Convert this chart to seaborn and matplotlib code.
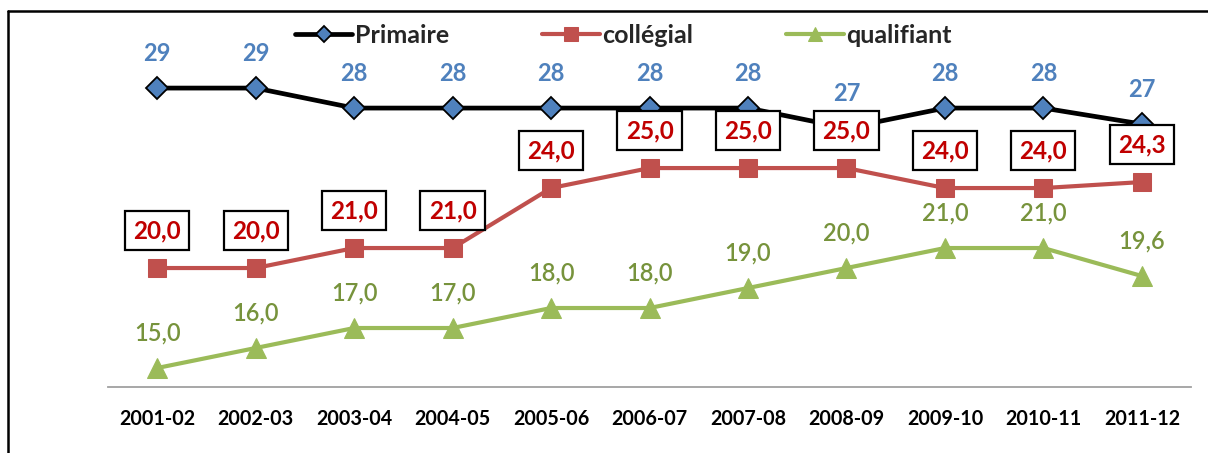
import matplotlib
matplotlib.use("Agg")
import matplotlib.pyplot as plt
from matplotlib.lines import Line2D
import seaborn as sns
import pandas as pd

# School years on the x axis
annees = ["2001-02", "2002-03", "2003-04", "2004-05", "2005-06", "2006-07",
          "2007-08", "2008-09", "2009-10", "2010-11", "2011-12"]

# Series values per level
primaire = [29, 29, 28, 28, 28, 28, 28, 27, 28, 28, 27.2]
collegial = [20.0, 20.0, 21.0, 21.0, 24.0, 25.0, 25.0, 25.0, 24.0, 24.0, 24.3]
qualifiant = [15.0, 16.0, 17.0, 17.0, 18.0, 18.0, 19.0, 20.0, 21.0, 21.0, 19.6]

sns.set_theme(style="white")
plt.rcParams["font.family"] = ["Lato", "DejaVu Sans"]

fig = plt.figure(figsize=(12.08, 4.53), dpi=100)
ax = fig.add_axes([0.0894, 0.1457, 0.8966, 0.7923])

pos = list(range(len(annees)))
df = pd.DataFrame({"pos": pos, "Primaire": primaire,
                   "collégial": collegial, "qualifiant": qualifiant})

sns.lineplot(data=df, x="pos", y="Primaire", ax=ax, color="black", lw=3.4,
             marker="D", markersize=11.5, markerfacecolor="#4F81BD",
             markeredgecolor="black", markeredgewidth=1.3, label="Primaire")
sns.lineplot(data=df, x="pos", y="collégial", ax=ax, color="#C0504D", lw=3.0,
             marker="s", markersize=13.5, markerfacecolor="#C0504D",
             markeredgecolor="#C0504D", label="collégial")
sns.lineplot(data=df, x="pos", y="qualifiant", ax=ax, color="#9BBB59", lw=3.0,
             marker="^", markersize=14, markerfacecolor="#9BBB59",
             markeredgecolor="#9BBB59", label="qualifiant")

def fr(v):
    return f"{v:.1f}".replace(".", ",")

for x, v in zip(pos, primaire):
    ax.annotate(f"{v:.0f}", (x, v), xytext=(0, 25), textcoords="offset points",
                ha="center", va="center", fontsize=17, fontweight="bold",
                color="#4F81BD")
for x, v in zip(pos, collegial):
    ax.annotate(fr(v), (x, v), xytext=(0, 27), textcoords="offset points",
                ha="center", va="center", fontsize=17.5, fontweight="bold",
                color="#C00000",
                bbox=dict(boxstyle="square,pad=0.34", fc="white", ec="black", lw=1.6))
for x, v in zip(pos, qualifiant):
    ax.annotate(fr(v), (x, v), xytext=(0, 25), textcoords="offset points",
                ha="center", va="center", fontsize=17, fontweight="semibold",
                color="#77933C")

ax.set_xlim(-0.5, len(annees) - 0.5)
ax.set_ylim(14.05, 32)
ax.set_xticks(pos)
ax.set_xticklabels(annees, fontsize=14.2, fontweight="bold", color="black")
ax.tick_params(axis="x", length=0, pad=16)
ax.set_yticks([])
ax.set_xlabel("")
ax.set_ylabel("")
for side in ["top", "right", "left"]:
    ax.spines[side].set_visible(False)
ax.spines["bottom"].set_color("#A0A0A0")
ax.spines["bottom"].set_linewidth(1.3)

leg = ax.legend(loc="center", bbox_to_anchor=(0.476, 0.98), ncol=3,
                frameon=False, handlelength=2.3, markerscale=0.72,
                columnspacing=3.7, handletextpad=0.12,
                prop={"weight": "bold", "size": 18})

# Frame lines along the top and left edges of the figure
fig.add_artist(Line2D([8 / 1208, 1.0], [1 - 11 / 453, 1 - 11 / 453],
                      transform=fig.transFigure, color="black", lw=1.8))
fig.add_artist(Line2D([8 / 1208, 8 / 1208], [0.0, 1 - 11 / 453],
                      transform=fig.transFigure, color="black", lw=1.8))

fig.savefig("out.png", dpi=100)
